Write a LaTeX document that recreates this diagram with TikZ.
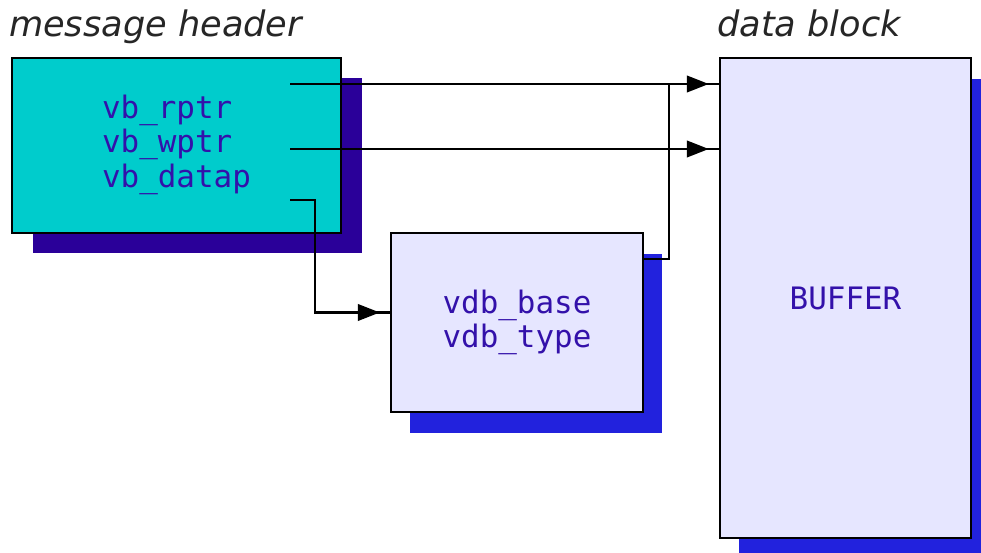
\documentclass[tikz,border=0pt]{standalone}
\usepackage{fontspec}
\setmainfont{DejaVu Sans}
\newfontfamily\monofont{DejaVu Sans Mono}
\usepackage{xcolor}
\usetikzlibrary{arrows.meta, positioning, shadows, decorations.markings}

\definecolor{hdrcyan}{HTML}{00CCCC}
\definecolor{hdrshadow}{HTML}{2A0099}
\definecolor{blkfill}{HTML}{E6E6FF}
\definecolor{blkshadow}{HTML}{2222DD}
\definecolor{labelblue}{HTML}{3311AA}

\begin{document}
\begin{tikzpicture}[
    x=0.02cm, y=-0.02cm,
    box/.style={draw, line width=1.4pt, inner sep=0pt, align=left, text=labelblue,
        font=\monofont\fontsize{17.6}{19.5}\selectfont},
    header/.style={box, fill=hdrcyan,
        general shadow={fill=hdrshadow, shadow xshift=0.42cm, shadow yshift=-0.4cm}},
    block/.style={box, fill=blkfill,
        general shadow={fill=blkshadow, shadow xshift=0.38cm, shadow yshift=-0.42cm}},
    title/.style={anchor=base west, inner sep=0pt, text=black!85,
        font=\itshape\fontsize{20}{24}\selectfont},
    wire/.style={line width=1.4pt},
    ptr/.style={wire, postaction={decorate}, decoration={markings,
        mark=at position -0.2cm with {\arrow{Triangle[length=0.44cm, width=0.33cm]}}}},
]
\clip (0,0) rectangle (981,553);
\useasboundingbox (0,0) rectangle (981,553);

% === message header ===
\node[header, minimum width=6.58cm, minimum height=3.5cm, text depth=0.17cm] (hdr) at (176.5,145.5)
    {vb\_rptr\\vb\_wptr\\vb\_datap};
\node[title, above=0.4cm of hdr.north west, xshift=-0.04cm, anchor=base west] (hdrtitle) {message header};

% === data block ===
\node[block, minimum width=5.04cm, minimum height=3.58cm] (vdb) at (517,322.5)
    {vdb\_base\\vdb\_type};
\node[block, minimum width=5.02cm, minimum height=9.6cm] (buf) at (845.5,298) {BUFFER};
\node[title, above=0.4cm of buf.north west, xshift=-0.04cm, anchor=base west] (buftitle) {data block};

% pointer start points inside the header
\coordinate (rptr) at (290,84);
\coordinate (wptr) at (290,149);
\coordinate (datap) at (290,200);
\coordinate (join) at (669,84);

% === pointers ===
\draw[ptr] (rptr) -- (rptr -| buf.west);
\draw[ptr] (wptr) -- (wptr -| buf.west);
\draw[ptr] (datap) -- ++(25,0) |- ([yshift=0.2cm]vdb.west);
\draw[wire] ([yshift=-0.54cm]vdb.north east) -| (join);

\end{tikzpicture}
\end{document}
